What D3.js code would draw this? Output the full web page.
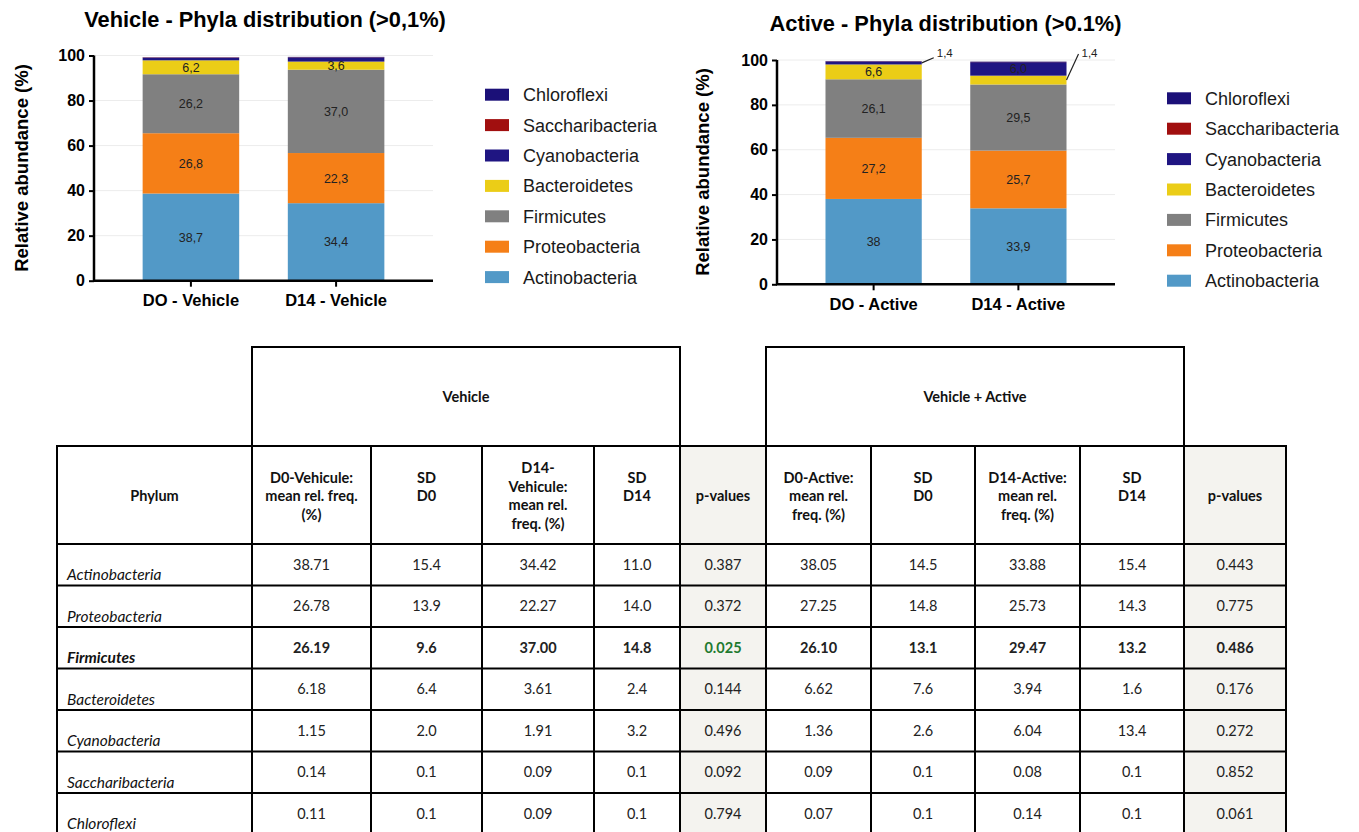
<!DOCTYPE html>
<html>
<head>
<meta charset="utf-8">
<script src="https://cdn.jsdelivr.net/npm/d3@7"></script>
<style>
  html, body { margin: 0; padding: 0; background: #fff; }
  svg { display: block; }
</style>
</head>
<body>
<svg id="fig" width="1359" height="832"></svg>
<script>
// ---------------- DATA ----------------
const phyla = ["Actinobacteria", "Proteobacteria", "Firmicutes", "Bacteroidetes", "Cyanobacteria", "Saccharibacteria", "Chloroflexi"];
const phylaColors = ["#5299c7", "#f57f17", "#808080", "#ebcd17", "#1f1582", "#a10f0f", "#1b1078"];
const legendOrder = ["Chloroflexi", "Saccharibacteria", "Cyanobacteria", "Bacteroidetes", "Firmicutes", "Proteobacteria", "Actinobacteria"];

const vehicleGroups = ["DO - Vehicle", "D14 - Vehicle"];
const activeGroups = ["DO - Active", "D14 - Active"];

const vehD0 = [38.71, 26.78, 26.19, 6.18, 1.15, 0.14, 0.11];
const vehD14 = [34.42, 22.27, 37.00, 3.61, 1.91, 0.09, 0.09];
const actD0 = [38.05, 27.25, 26.10, 6.62, 1.36, 0.09, 0.07];
const actD14 = [33.88, 25.73, 29.47, 3.94, 6.04, 0.08, 0.14];

const vehD0Labels = ["38,7", "26,8", "26,2", "6,2", "", "", ""];
const vehD14Labels = ["34,4", "22,3", "37,0", "3,6", "", "", ""];
const actD0Labels = ["38", "27,2", "26,1", "6,6", "", "", ""];
const actD14Labels = ["33,9", "25,7", "29,5", "", "6,0", "", ""];
// callouts: [group index, phylum index, text]
const actCallouts = [[0, 4, "1,4"], [1, 3, "1,4"]];

const yTicks = [0, 20, 40, 60, 80, 100];

const vehSD0 = [15.4, 13.9, 9.6, 6.4, 2.0, 0.1, 0.1];
const vehSD14 = [11.0, 14.0, 14.8, 2.4, 3.2, 0.1, 0.1];
const vehP = [0.387, 0.372, 0.025, 0.144, 0.496, 0.092, 0.794];
const actSD0 = [14.5, 14.8, 13.1, 7.6, 2.6, 0.1, 0.1];
const actSD14 = [15.4, 14.3, 13.2, 1.6, 13.4, 0.1, 0.1];
const actP = [0.443, 0.775, 0.486, 0.176, 0.272, 0.852, 0.061];

const groupHeaders = ["Vehicle", "Vehicle + Active"];
const colHeaders = ["Phylum", "D0-Vehicule:\nmean rel. freq.\n(%)", "SD\nD0", "D14-\nVehicule:\nmean rel.\nfreq. (%)", "SD\nD14", "p-values",
  "D0-Active:\nmean rel.\nfreq. (%)", "SD\nD0", "D14-Active:\nmean rel.\nfreq. (%)", "SD\nD14", "p-values"];
const boldRow = "Firmicutes";
const significantP = 0.05;

// ---------------- CHARTS ----------------
const svg = d3.select("#fig");
const chartFont = "Arial, 'Liberation Sans', Helvetica, sans-serif";
const colorOf = d3.scaleOrdinal().domain(phyla).range(phylaColors);

function drawChart(cfg) {
  const g = svg.append("g");
  const x = d3.scaleBand().domain(cfg.groups).range([cfg.x0, cfg.x1]).padding(0.335);
  const y = d3.scaleLinear().domain([0, 100]).range([cfg.yBottom, cfg.yTop]);

  // title
  g.append("text").attr("x", cfg.titleX).attr("y", cfg.titleY)
    .attr("text-anchor", "middle").attr("font-family", chartFont)
    .attr("font-weight", "bold").attr("font-size", 21.8).attr("fill", "#000")
    .text(cfg.title);

  // gridlines
  g.append("g").selectAll("line").data(yTicks.filter(d => d > 0)).join("line")
    .attr("x1", cfg.x0).attr("x2", cfg.x1)
    .attr("y1", d => y(d)).attr("y2", d => y(d))
    .attr("stroke", "#ececec").attr("stroke-width", 1);

  // stacked bars
  const rows = cfg.groups.map((grp, i) => {
    const o = { group: grp };
    phyla.forEach((p, j) => o[p] = cfg.values[i][j]);
    return o;
  });
  const stack = d3.stack().keys(phyla)(rows);
  g.append("g").selectAll("g").data(stack).join("g")
    .attr("fill", d => colorOf(d.key))
    .selectAll("rect").data(d => d).join("rect")
    .attr("x", d => x(d.data.group))
    .attr("width", x.bandwidth())
    .attr("y", d => y(d[1]))
    .attr("height", d => y(d[0]) - y(d[1]));

  // segment labels
  stack.forEach((layer, j) => {
    layer.forEach((seg, i) => {
      const lab = cfg.labels[i][j];
      if (!lab) return;
      g.append("text")
        .attr("x", x(seg.data.group) + x.bandwidth() / 2)
        .attr("y", y((seg[0] + seg[1]) / 2))
        .attr("dy", "0.36em")
        .attr("text-anchor", "middle").attr("font-family", chartFont)
        .attr("font-size", 12.5).attr("fill", "#222").text(lab);
    });
  });

  // callouts
  (cfg.callouts || []).forEach(([gi, pj, txt], k) => {
    const seg = stack[pj][gi];
    const xr = x(seg.data.group) + x.bandwidth();
    const ys = y((seg[0] + seg[1]) / 2);
    const yEnd = y(100) - (k === 0 ? 2.3 : 6);
    g.append("line").attr("x1", xr).attr("y1", ys).attr("x2", xr + 12).attr("y2", yEnd)
      .attr("stroke", "#222").attr("stroke-width", 1.2);
    g.append("text").attr("x", xr + 15).attr("y", y(100) - 3.3)
      .attr("font-family", chartFont).attr("font-size", 11.5).attr("fill", "#222").text(txt);
  });

  // axes
  const yAxis = g.append("g").attr("transform", `translate(${cfg.x0},0)`)
    .call(d3.axisLeft(y).tickValues(yTicks).tickSize(5).tickPadding(4));
  yAxis.select(".domain").attr("stroke", "#000").attr("stroke-width", 2.5).attr("d", `M0,${cfg.yBottom}V${y(100)}`);
  yAxis.selectAll(".tick line").attr("stroke", "#000").attr("stroke-width", 2);
  yAxis.selectAll(".tick text").attr("font-family", chartFont).attr("font-weight", "bold")
    .attr("font-size", 16).attr("fill", "#000");

  const xAxis = g.append("g").attr("transform", `translate(0,${cfg.yBottom})`)
    .call(d3.axisBottom(x).tickSize(6).tickPadding(8));
  xAxis.select(".domain").attr("stroke", "#000").attr("stroke-width", 2.5).attr("d", `M${cfg.x0 - 1},0H${cfg.x1}`);
  xAxis.selectAll(".tick line").attr("stroke", "#000").attr("stroke-width", 2);
  xAxis.selectAll(".tick text").attr("font-family", chartFont).attr("font-weight", "bold")
    .attr("font-size", 16.5).attr("fill", "#000").attr("dy", "0.71em");

  // y label
  g.append("text").attr("transform", `translate(${cfg.yLabelX},${cfg.yLabelY}) rotate(-90)`)
    .attr("text-anchor", "middle").attr("dy", "0.36em").attr("font-family", chartFont)
    .attr("font-weight", "bold").attr("font-size", 18.5).attr("fill", "#000")
    .text("Relative abundance (%)");

  // legend
  const leg = g.append("g").selectAll("g").data(legendOrder).join("g")
    .attr("transform", (d, i) => `translate(${cfg.legX},${cfg.legY + i * 30.4})`);
  leg.append("rect").attr("x", 0).attr("y", -6).attr("width", 24).attr("height", 12)
    .attr("fill", d => colorOf(d));
  leg.append("text").attr("x", 38).attr("y", 0).attr("dy", "0.36em")
    .attr("font-family", chartFont).attr("font-size", 18).attr("fill", "#1a1a1a").text(d => d);
}

drawChart({
  title: "Vehicle - Phyla distribution (>0,1%)", titleX: 265, titleY: 27,
  groups: vehicleGroups, values: [vehD0, vehD14], labels: [vehD0Labels, vehD14Labels],
  x0: 94, x1: 433, yBottom: 280.7, yTop: 55.5,
  yLabelX: 21, yLabelY: 168, legX: 485, legY: 94.7
});
drawChart({
  title: "Active - Phyla distribution (>0.1%)", titleX: 945.5, titleY: 30.5,
  groups: activeGroups, values: [actD0, actD14], labels: [actD0Labels, actD14Labels],
  callouts: actCallouts,
  x0: 777, x1: 1115, yBottom: 284.3, yTop: 60,
  yLabelX: 702, yLabelY: 172, legX: 1167, legY: 98.3
});

// ---------------- TABLE ----------------
const tFont = "Lato, 'Open Sans', Calibri, sans-serif";
const colEdges = [57, 252, 371, 482, 594, 680, 766, 871, 975, 1080, 1184, 1286];
const pCols = [5, 10];
const yGroupTop = 347, yHeadTop = 446, yHeadBottom = 544, rowH = 41.5;
const tbl = svg.append("g");
const nRows = phyla.length;
const yEnd = yHeadBottom + nRows * rowH;

// p-value backgrounds
pCols.forEach(c => {
  tbl.append("rect").attr("x", colEdges[c]).attr("y", yHeadTop)
    .attr("width", colEdges[c + 1] - colEdges[c]).attr("height", yEnd - yHeadTop)
    .attr("fill", "#f4f3ef");
});

// group header boxes
const groupSpans = [[1, 5], [6, 10]];
groupSpans.forEach(([a, b], i) => {
  tbl.append("rect").attr("x", colEdges[a]).attr("y", yGroupTop)
    .attr("width", colEdges[b] - colEdges[a]).attr("height", yHeadTop - yGroupTop)
    .attr("fill", "none").attr("stroke", "#000").attr("stroke-width", 2);
  tbl.append("text").attr("x", (colEdges[a] + colEdges[b]) / 2).attr("y", (yGroupTop + yHeadTop) / 2)
    .attr("dy", "0.36em").attr("text-anchor", "middle").attr("font-family", tFont)
    .attr("font-weight", "bold").attr("font-size", 14.5).attr("fill", "#111").text(groupHeaders[i]);
});

// grid lines
const hLines = [yHeadTop, yHeadBottom].concat(d3.range(1, nRows + 1).map(i => yHeadBottom + i * rowH));
tbl.append("g").selectAll("line").data(hLines).join("line")
  .attr("x1", colEdges[0] - 1).attr("x2", colEdges[colEdges.length - 1] + 1)
  .attr("y1", d => d).attr("y2", d => d).attr("stroke", "#000").attr("stroke-width", 2);
tbl.append("g").selectAll("line").data(colEdges).join("line")
  .attr("x1", d => d).attr("x2", d => d).attr("y1", yHeadTop).attr("y2", yEnd)
  .attr("stroke", "#000").attr("stroke-width", 2);

// column headers
const headMid = (yHeadTop + yHeadBottom) / 2 + 1;
colHeaders.forEach((h, c) => {
  const lines = h.split("\n");
  const n = lines.length;
  const lh = 18.5;
  const start = n === 1 ? headMid : headMid - (Math.max(n, 3) - 1) * lh / 2;
  const t = tbl.append("text").attr("text-anchor", "middle").attr("font-family", tFont)
    .attr("font-weight", "bold").attr("font-size", 14.5).attr("fill", "#111");
  lines.forEach((ln, k) => {
    t.append("tspan").attr("x", (colEdges[c] + colEdges[c + 1]) / 2)
      .attr("y", start + k * lh).attr("dy", "0.36em").text(ln);
  });
});

// data rows
const f2 = d3.format(".2f"), f1 = d3.format(".1f"), f3 = d3.format(".3f");
const columns = [
  [vehD0, f2], [vehSD0, f1], [vehD14, f2], [vehSD14, f1], [vehP, f3],
  [actD0, f2], [actSD0, f1], [actD14, f2], [actSD14, f1], [actP, f3]
];
phyla.forEach((p, r) => {
  const top = yHeadBottom + r * rowH;
  const bold = p === boldRow;
  tbl.append("text").attr("x", colEdges[0] + 10).attr("y", top + rowH / 2 + 10).attr("dy", "0.36em")
    .attr("font-family", tFont).attr("font-style", "italic")
    .attr("font-weight", bold ? "bold" : "normal").attr("font-size", 15.5).attr("fill", "#111").text(p);
  columns.forEach(([arr, fmt], c) => {
    const isP = c === 4 || c === 9;
    const sig = isP && arr[r] < significantP;
    tbl.append("text").attr("x", (colEdges[c + 1] + colEdges[c + 2]) / 2)
      .attr("y", top + rowH / 2).attr("dy", "0.36em").attr("text-anchor", "middle")
      .attr("font-family", tFont).attr("font-weight", bold ? "bold" : "normal")
      .attr("font-size", 14.5).attr("fill", sig ? "#1f7a30" : "#222").text(fmt(arr[r]));
  });
});
</script>
</body>
</html>
